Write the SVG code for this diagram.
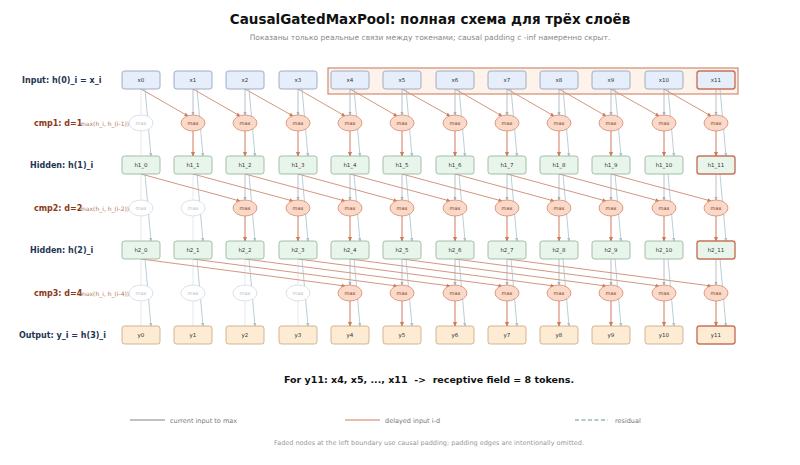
<svg xmlns="http://www.w3.org/2000/svg" width="800" height="465" viewBox="0 0 800 465" font-family="DejaVu Sans, sans-serif">
<style>
.bx{fill:#e6eefb;stroke:#8a9bb5;stroke-width:0.8}
.bh{fill:#e8f5ea;stroke:#8fae96;stroke-width:0.8}
.by{fill:#fdebd3;stroke:#c9a27a;stroke-width:0.8}
.hl{stroke:#c8735a;stroke-width:1.4}
.el{fill:#fbd9c9;stroke:#d48a6e;stroke-width:0.8}
.fe{fill:#fff;stroke:#d9e2ea;stroke-width:1}
.nt{font-size:5.5px;fill:#333;text-anchor:middle}
.ft{font-size:5px;fill:#bbb;text-anchor:middle}
.et{font-size:5px;fill:#7a3a20;text-anchor:middle}
.lab{font-size:8px;font-weight:bold;fill:#1f3552}
.cl{font-size:8px;font-weight:bold;fill:#8a3a1a}
.cs{font-size:6px;fill:#b0785e}
.cur path{stroke:#a6b0ba;stroke-width:0.8;fill:none;marker-end:url(#ag)}
.del path{stroke:#cf8a70;stroke-width:0.9;fill:none;marker-end:url(#ao)}
.mo path{stroke:#cf7a5a;stroke-width:1;fill:none;marker-end:url(#ao)}
.res path{stroke:#a9c2cc;stroke-width:0.8;fill:none;marker-end:url(#ar)}
.fd{stroke:#dde3e8;stroke-width:0.8;fill:none}
</style>
<defs>
<marker id="ag" markerWidth="5" markerHeight="5" refX="4" refY="2.5" orient="auto"><path d="M0,0.5L5,2.5L0,4.5z" fill="#a6b0ba"/></marker>
<marker id="ao" markerWidth="5" markerHeight="5" refX="4" refY="2.5" orient="auto"><path d="M0,0.5L5,2.5L0,4.5z" fill="#cf7a5a"/></marker>
<marker id="ar" markerWidth="5" markerHeight="5" refX="4" refY="2.5" orient="auto"><path d="M0,0.5L5,2.5L0,4.5z" fill="#a9c2cc"/></marker>
</defs>
<rect width="800" height="465" fill="#fff"/>
<text x="430" y="24" font-size="13.5" font-weight="bold" text-anchor="middle" fill="#111">CausalGatedMaxPool: полная схема для трёх слоёв</text>
<text x="430" y="40" font-size="7.5" text-anchor="middle" fill="#888">Показаны только реальные связи между токенами; causal padding с -inf намеренно скрыт.</text>
<rect x="328" y="68" width="410" height="26" fill="#fdf3ea" stroke="#d08a70" stroke-width="1.2"/>
<g id="labels">
<text class="lab" x="22" y="83">Input: h(0)_i = x_i</text>
<text class="cl" x="34" y="126">cmp1: d=1</text><text class="cs" x="80" y="126">max(h_i, h_(i-1))</text>
<text class="lab" x="30" y="168">Hidden: h(1)_i</text>
<text class="cl" x="34" y="211">cmp2: d=2</text><text class="cs" x="80" y="211">max(h_i, h_(i-2))</text>
<text class="lab" x="30" y="253">Hidden: h(2)_i</text>
<text class="cl" x="34" y="296">cmp3: d=4</text><text class="cs" x="80" y="296">max(h_i, h_(i-4))</text>
<text class="lab" x="19" y="338">Output: y_i = h(3)_i</text>
</g>
<g id="connectors">
<path class="fd" d="M141,89V115M141,131V156M141,174V200M141,216V241M193,174V200M193,216V241M141,259V285M141,301V326M193,259V285M193,301V326M245,259V285M245,301V326M298,259V285M298,301V326"/>
<g class="cur">
<path d="M193,89V115"/><path d="M245,89V115"/><path d="M298,89V115"/><path d="M350,89V115"/><path d="M402,89V115"/><path d="M455,89V115"/><path d="M507,89V115"/><path d="M559,89V115"/><path d="M611,89V115"/><path d="M664,89V115"/><path d="M716,89V115"/>
<path d="M245,174V200"/><path d="M298,174V200"/><path d="M350,174V200"/><path d="M402,174V200"/><path d="M455,174V200"/><path d="M507,174V200"/><path d="M559,174V200"/><path d="M611,174V200"/><path d="M664,174V200"/><path d="M716,174V200"/>
<path d="M350,259V285"/><path d="M402,259V285"/><path d="M455,259V285"/><path d="M507,259V285"/><path d="M559,259V285"/><path d="M611,259V285"/><path d="M664,259V285"/><path d="M716,259V285"/>
</g>
<g class="del">
<path d="M141,89L188,116"/><path d="M193,89L240,116"/><path d="M245,89L293,116"/><path d="M298,89L345,116"/><path d="M350,89L397,116"/><path d="M402,89L450,116"/><path d="M455,89L502,116"/><path d="M507,89L554,116"/><path d="M559,89L606,116"/><path d="M611,89L659,116"/><path d="M664,89L711,116"/>
<path d="M141,174L240,201"/><path d="M193,174L293,201"/><path d="M245,174L345,201"/><path d="M298,174L397,201"/><path d="M350,174L450,201"/><path d="M402,174L502,201"/><path d="M455,174L554,201"/><path d="M507,174L606,201"/><path d="M559,174L659,201"/><path d="M611,174L711,201"/>
<path d="M141,259L345,286"/><path d="M193,259L397,286"/><path d="M245,259L450,286"/><path d="M298,259L502,286"/><path d="M350,259L554,286"/><path d="M402,259L606,286"/><path d="M455,259L659,286"/><path d="M507,259L711,286"/>
</g>
<g class="mo">
<path d="M193,131V156"/><path d="M245,131V156"/><path d="M298,131V156"/><path d="M350,131V156"/><path d="M402,131V156"/><path d="M455,131V156"/><path d="M507,131V156"/><path d="M559,131V156"/><path d="M611,131V156"/><path d="M664,131V156"/><path d="M716,131V156"/>
<path d="M245,216V241"/><path d="M298,216V241"/><path d="M350,216V241"/><path d="M402,216V241"/><path d="M455,216V241"/><path d="M507,216V241"/><path d="M559,216V241"/><path d="M611,216V241"/><path d="M664,216V241"/><path d="M716,216V241"/>
<path d="M350,301V326"/><path d="M402,301V326"/><path d="M455,301V326"/><path d="M507,301V326"/><path d="M559,301V326"/><path d="M611,301V326"/><path d="M664,301V326"/><path d="M716,301V326"/>
</g>
<g class="res">
<path d="M145,89L151,156"/><path d="M197,89L203,156"/><path d="M249,89L255,156"/><path d="M302,89L308,156"/><path d="M354,89L360,156"/><path d="M406,89L412,156"/><path d="M459,89L465,156"/><path d="M511,89L517,156"/><path d="M563,89L569,156"/><path d="M615,89L621,156"/><path d="M668,89L674,156"/><path d="M720,89L726,156"/>
<path d="M145,174L151,241"/><path d="M197,174L203,241"/><path d="M249,174L255,241"/><path d="M302,174L308,241"/><path d="M354,174L360,241"/><path d="M406,174L412,241"/><path d="M459,174L465,241"/><path d="M511,174L517,241"/><path d="M563,174L569,241"/><path d="M615,174L621,241"/><path d="M668,174L674,241"/><path d="M720,174L726,241"/>
<path d="M145,259L151,326"/><path d="M197,259L203,326"/><path d="M249,259L255,326"/><path d="M302,259L308,326"/><path d="M354,259L360,326"/><path d="M406,259L412,326"/><path d="M459,259L465,326"/><path d="M511,259L517,326"/><path d="M563,259L569,326"/><path d="M615,259L621,326"/><path d="M668,259L674,326"/><path d="M720,259L726,326"/>
</g>
</g>
<g id="input">
<rect class="bx" x="122" y="71" width="38" height="18" rx="2.5"/><text class="nt" x="141" y="82">x0</text>
<rect class="bx" x="174" y="71" width="38" height="18" rx="2.5"/><text class="nt" x="193" y="82">x1</text>
<rect class="bx" x="226" y="71" width="38" height="18" rx="2.5"/><text class="nt" x="245" y="82">x2</text>
<rect class="bx" x="279" y="71" width="38" height="18" rx="2.5"/><text class="nt" x="298" y="82">x3</text>
<rect class="bx" x="331" y="71" width="38" height="18" rx="2.5"/><text class="nt" x="350" y="82">x4</text>
<rect class="bx" x="383" y="71" width="38" height="18" rx="2.5"/><text class="nt" x="402" y="82">x5</text>
<rect class="bx" x="436" y="71" width="38" height="18" rx="2.5"/><text class="nt" x="455" y="82">x6</text>
<rect class="bx" x="488" y="71" width="38" height="18" rx="2.5"/><text class="nt" x="507" y="82">x7</text>
<rect class="bx" x="540" y="71" width="38" height="18" rx="2.5"/><text class="nt" x="559" y="82">x8</text>
<rect class="bx" x="592" y="71" width="38" height="18" rx="2.5"/><text class="nt" x="611" y="82">x9</text>
<rect class="bx" x="645" y="71" width="38" height="18" rx="2.5"/><text class="nt" x="664" y="82">x10</text>
<rect class="bx hl" x="697" y="71" width="38" height="18" rx="2.5"/><text class="nt" x="716" y="82">x11</text>
</g>
<g id="cmp1">
<ellipse class="fe" cx="141" cy="123" rx="12" ry="8"/><text class="ft" x="141" y="125">max</text>
<ellipse class="el" cx="193" cy="123" rx="12" ry="8"/><text class="et" x="193" y="125">max</text>
<ellipse class="el" cx="245" cy="123" rx="12" ry="8"/><text class="et" x="245" y="125">max</text>
<ellipse class="el" cx="298" cy="123" rx="12" ry="8"/><text class="et" x="298" y="125">max</text>
<ellipse class="el" cx="350" cy="123" rx="12" ry="8"/><text class="et" x="350" y="125">max</text>
<ellipse class="el" cx="402" cy="123" rx="12" ry="8"/><text class="et" x="402" y="125">max</text>
<ellipse class="el" cx="455" cy="123" rx="12" ry="8"/><text class="et" x="455" y="125">max</text>
<ellipse class="el" cx="507" cy="123" rx="12" ry="8"/><text class="et" x="507" y="125">max</text>
<ellipse class="el" cx="559" cy="123" rx="12" ry="8"/><text class="et" x="559" y="125">max</text>
<ellipse class="el" cx="611" cy="123" rx="12" ry="8"/><text class="et" x="611" y="125">max</text>
<ellipse class="el" cx="664" cy="123" rx="12" ry="8"/><text class="et" x="664" y="125">max</text>
<ellipse class="el" cx="716" cy="123" rx="12" ry="8"/><text class="et" x="716" y="125">max</text>
</g>
<g id="hidden1">
<rect class="bh" x="122" y="156" width="38" height="18" rx="2.5"/><text class="nt" x="141" y="167">h1_0</text>
<rect class="bh" x="174" y="156" width="38" height="18" rx="2.5"/><text class="nt" x="193" y="167">h1_1</text>
<rect class="bh" x="226" y="156" width="38" height="18" rx="2.5"/><text class="nt" x="245" y="167">h1_2</text>
<rect class="bh" x="279" y="156" width="38" height="18" rx="2.5"/><text class="nt" x="298" y="167">h1_3</text>
<rect class="bh" x="331" y="156" width="38" height="18" rx="2.5"/><text class="nt" x="350" y="167">h1_4</text>
<rect class="bh" x="383" y="156" width="38" height="18" rx="2.5"/><text class="nt" x="402" y="167">h1_5</text>
<rect class="bh" x="436" y="156" width="38" height="18" rx="2.5"/><text class="nt" x="455" y="167">h1_6</text>
<rect class="bh" x="488" y="156" width="38" height="18" rx="2.5"/><text class="nt" x="507" y="167">h1_7</text>
<rect class="bh" x="540" y="156" width="38" height="18" rx="2.5"/><text class="nt" x="559" y="167">h1_8</text>
<rect class="bh" x="592" y="156" width="38" height="18" rx="2.5"/><text class="nt" x="611" y="167">h1_9</text>
<rect class="bh" x="645" y="156" width="38" height="18" rx="2.5"/><text class="nt" x="664" y="167">h1_10</text>
<rect class="bh hl" x="697" y="156" width="38" height="18" rx="2.5"/><text class="nt" x="716" y="167">h1_11</text>
</g>
<g id="cmp2">
<ellipse class="fe" cx="141" cy="208" rx="12" ry="8"/><text class="ft" x="141" y="210">max</text>
<ellipse class="fe" cx="193" cy="208" rx="12" ry="8"/><text class="ft" x="193" y="210">max</text>
<ellipse class="el" cx="245" cy="208" rx="12" ry="8"/><text class="et" x="245" y="210">max</text>
<ellipse class="el" cx="298" cy="208" rx="12" ry="8"/><text class="et" x="298" y="210">max</text>
<ellipse class="el" cx="350" cy="208" rx="12" ry="8"/><text class="et" x="350" y="210">max</text>
<ellipse class="el" cx="402" cy="208" rx="12" ry="8"/><text class="et" x="402" y="210">max</text>
<ellipse class="el" cx="455" cy="208" rx="12" ry="8"/><text class="et" x="455" y="210">max</text>
<ellipse class="el" cx="507" cy="208" rx="12" ry="8"/><text class="et" x="507" y="210">max</text>
<ellipse class="el" cx="559" cy="208" rx="12" ry="8"/><text class="et" x="559" y="210">max</text>
<ellipse class="el" cx="611" cy="208" rx="12" ry="8"/><text class="et" x="611" y="210">max</text>
<ellipse class="el" cx="664" cy="208" rx="12" ry="8"/><text class="et" x="664" y="210">max</text>
<ellipse class="el" cx="716" cy="208" rx="12" ry="8"/><text class="et" x="716" y="210">max</text>
</g>
<g id="hidden2">
<rect class="bh" x="122" y="241" width="38" height="18" rx="2.5"/><text class="nt" x="141" y="252">h2_0</text>
<rect class="bh" x="174" y="241" width="38" height="18" rx="2.5"/><text class="nt" x="193" y="252">h2_1</text>
<rect class="bh" x="226" y="241" width="38" height="18" rx="2.5"/><text class="nt" x="245" y="252">h2_2</text>
<rect class="bh" x="279" y="241" width="38" height="18" rx="2.5"/><text class="nt" x="298" y="252">h2_3</text>
<rect class="bh" x="331" y="241" width="38" height="18" rx="2.5"/><text class="nt" x="350" y="252">h2_4</text>
<rect class="bh" x="383" y="241" width="38" height="18" rx="2.5"/><text class="nt" x="402" y="252">h2_5</text>
<rect class="bh" x="436" y="241" width="38" height="18" rx="2.5"/><text class="nt" x="455" y="252">h2_6</text>
<rect class="bh" x="488" y="241" width="38" height="18" rx="2.5"/><text class="nt" x="507" y="252">h2_7</text>
<rect class="bh" x="540" y="241" width="38" height="18" rx="2.5"/><text class="nt" x="559" y="252">h2_8</text>
<rect class="bh" x="592" y="241" width="38" height="18" rx="2.5"/><text class="nt" x="611" y="252">h2_9</text>
<rect class="bh" x="645" y="241" width="38" height="18" rx="2.5"/><text class="nt" x="664" y="252">h2_10</text>
<rect class="bh hl" x="697" y="241" width="38" height="18" rx="2.5"/><text class="nt" x="716" y="252">h2_11</text>
</g>
<g id="cmp3">
<ellipse class="fe" cx="141" cy="293" rx="12" ry="8"/><text class="ft" x="141" y="295">max</text>
<ellipse class="fe" cx="193" cy="293" rx="12" ry="8"/><text class="ft" x="193" y="295">max</text>
<ellipse class="fe" cx="245" cy="293" rx="12" ry="8"/><text class="ft" x="245" y="295">max</text>
<ellipse class="fe" cx="298" cy="293" rx="12" ry="8"/><text class="ft" x="298" y="295">max</text>
<ellipse class="el" cx="350" cy="293" rx="12" ry="8"/><text class="et" x="350" y="295">max</text>
<ellipse class="el" cx="402" cy="293" rx="12" ry="8"/><text class="et" x="402" y="295">max</text>
<ellipse class="el" cx="455" cy="293" rx="12" ry="8"/><text class="et" x="455" y="295">max</text>
<ellipse class="el" cx="507" cy="293" rx="12" ry="8"/><text class="et" x="507" y="295">max</text>
<ellipse class="el" cx="559" cy="293" rx="12" ry="8"/><text class="et" x="559" y="295">max</text>
<ellipse class="el" cx="611" cy="293" rx="12" ry="8"/><text class="et" x="611" y="295">max</text>
<ellipse class="el" cx="664" cy="293" rx="12" ry="8"/><text class="et" x="664" y="295">max</text>
<ellipse class="el" cx="716" cy="293" rx="12" ry="8"/><text class="et" x="716" y="295">max</text>
</g>
<g id="output">
<rect class="by" x="122" y="326" width="38" height="18" rx="2.5"/><text class="nt" x="141" y="337">y0</text>
<rect class="by" x="174" y="326" width="38" height="18" rx="2.5"/><text class="nt" x="193" y="337">y1</text>
<rect class="by" x="226" y="326" width="38" height="18" rx="2.5"/><text class="nt" x="245" y="337">y2</text>
<rect class="by" x="279" y="326" width="38" height="18" rx="2.5"/><text class="nt" x="298" y="337">y3</text>
<rect class="by" x="331" y="326" width="38" height="18" rx="2.5"/><text class="nt" x="350" y="337">y4</text>
<rect class="by" x="383" y="326" width="38" height="18" rx="2.5"/><text class="nt" x="402" y="337">y5</text>
<rect class="by" x="436" y="326" width="38" height="18" rx="2.5"/><text class="nt" x="455" y="337">y6</text>
<rect class="by" x="488" y="326" width="38" height="18" rx="2.5"/><text class="nt" x="507" y="337">y7</text>
<rect class="by" x="540" y="326" width="38" height="18" rx="2.5"/><text class="nt" x="559" y="337">y8</text>
<rect class="by" x="592" y="326" width="38" height="18" rx="2.5"/><text class="nt" x="611" y="337">y9</text>
<rect class="by" x="645" y="326" width="38" height="18" rx="2.5"/><text class="nt" x="664" y="337">y10</text>
<rect class="by hl" x="697" y="326" width="38" height="18" rx="2.5"/><text class="nt" x="716" y="337">y11</text>
</g>
<text x="429" y="383" font-size="9.5" font-weight="bold" text-anchor="middle" fill="#111" xml:space="preserve">For y11: x4, x5, ..., x11  -&gt;  receptive field = 8 tokens.</text>
<g id="legend">
<line x1="130" y1="420" x2="165" y2="420" stroke="#7d8590" stroke-width="1.2"/>
<text x="170" y="422.5" font-size="6.5" fill="#777">current input to max</text>
<line x1="345" y1="420" x2="380" y2="420" stroke="#cf7a5a" stroke-width="1.2"/>
<text x="385" y="422.5" font-size="6.5" fill="#777">delayed input i-d</text>
<line x1="575" y1="420" x2="608" y2="420" stroke="#5a9a8c" stroke-width="1.2" stroke-dasharray="4,2.5"/>
<text x="615" y="422.5" font-size="6.5" fill="#777">residual</text>
</g>
<text x="429" y="445" font-size="6.5" text-anchor="middle" fill="#999">Faded nodes at the left boundary use causal padding; padding edges are intentionally omitted.</text>
</svg>
